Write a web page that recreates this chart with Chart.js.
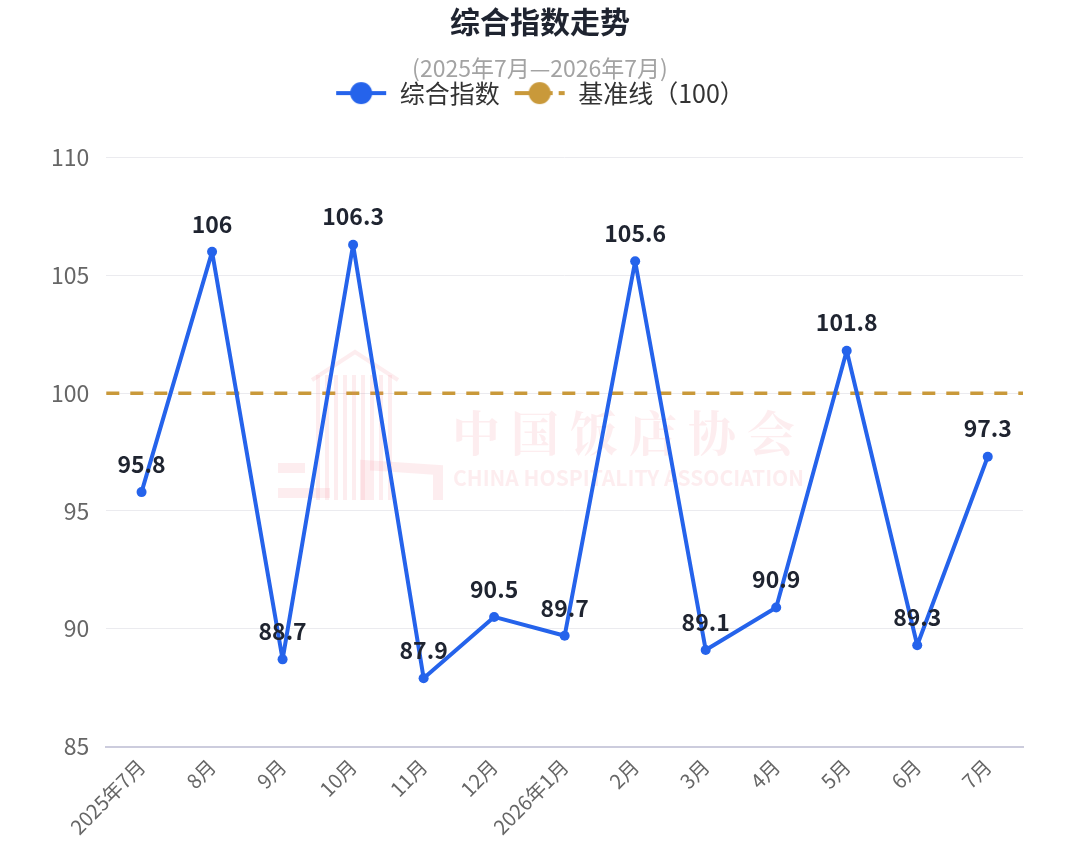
<!DOCTYPE html>
<html>
<head>
<meta charset="utf-8">
<script src="https://cdn.jsdelivr.net/npm/chart.js@4"></script>
<style>
  html, body { margin: 0; padding: 0; background: #fff; }
  #wrap { width: 1080px; height: 851px; }
</style>
</head>
<body>
<div id="wrap"><canvas id="lineChart"></canvas></div>
<script>
const months = ["2025年7月", "8月", "9月", "10月", "11月", "12月", "2026年1月", "2月", "3月", "4月", "5月", "6月", "7月"];
const indexValues = [95.8, 106, 88.7, 106.3, 87.9, 90.5, 89.7, 105.6, 89.1, 90.9, 101.8, 89.3, 97.3];
const baseValue = 100;
const baseValues = months.map(() => baseValue);

const FONT = "'Noto Sans CJK SC', 'Noto Sans', sans-serif";
const BLUE = "#2563eb";
const GOLD = "#c9993a";

// legend marker: short line with a dot in the middle
function legendIcon(color, dashed) {
  const c = document.createElement("canvas");
  c.width = 52; c.height = 24;
  const g = c.getContext("2d");
  g.strokeStyle = color;
  g.lineWidth = 4;
  if (dashed) g.setLineDash([38, 6]);
  g.beginPath();
  g.moveTo(1, 12); g.lineTo(51, 12);
  g.stroke();
  g.fillStyle = color;
  g.beginPath();
  g.arc(26, 12, 11, 0, Math.PI * 2);
  g.fill();
  return c;
}
const icons = [legendIcon(BLUE, false), legendIcon(GOLD, true)];

// baseline across the whole plot width
const baseLine = {
  id: "baseLine",
  beforeDatasetsDraw(chart) {
    const { ctx, chartArea, scales } = chart;
    const y = scales.y.getPixelForValue(baseValue);
    ctx.save();
    ctx.strokeStyle = GOLD;
    ctx.lineWidth = 3.5;
    ctx.setLineDash([13, 11]);
    ctx.beginPath();
    ctx.moveTo(chartArea.left, y);
    ctx.lineTo(chartArea.right, y);
    ctx.stroke();
    ctx.restore();
  }
};

const valueLabels = {
  id: "valueLabels",
  afterDatasetsDraw(chart) {
    const ctx = chart.ctx;
    const meta = chart.getDatasetMeta(0);
    ctx.save();
    ctx.font = "bold 23px " + FONT;
    ctx.fillStyle = "#1f2430";
    ctx.textAlign = "center";
    ctx.textBaseline = "middle";
    meta.data.forEach((pt, i) => {
      ctx.fillText(String(indexValues[i]), pt.x, pt.y - 28);
    });
    ctx.restore();
  }
};

const watermark = {
  id: "watermark",
  beforeDatasetsDraw(chart) {
    const ctx = chart.ctx;
    ctx.save();
    const pink = "rgba(238, 130, 145, 0.14)";
    ctx.fillStyle = pink;
    ctx.strokeStyle = pink;
    // rough building logo
    ctx.lineWidth = 4;
    for (let x = 318; x <= 392; x += 9) {
      ctx.beginPath();
      ctx.moveTo(x, 375); ctx.lineTo(x, 500);
      ctx.stroke();
    }
    ctx.beginPath();
    ctx.moveTo(312, 380); ctx.lineTo(355, 352); ctx.lineTo(398, 380);
    ctx.stroke();
    ctx.lineWidth = 10;
    ctx.beginPath();
    ctx.moveTo(278, 468); ctx.lineTo(305, 468);
    ctx.moveTo(278, 493); ctx.lineTo(330, 493);
    ctx.moveTo(365, 500); ctx.lineTo(365, 465); ctx.lineTo(438, 470); ctx.lineTo(438, 500);
    ctx.stroke();
    ctx.font = "bold 48px 'Noto Serif CJK SC', 'Noto Sans CJK SC', serif";
    ctx.textAlign = "left";
    ctx.textBaseline = "middle";
    ctx.letterSpacing = "11px";
    ctx.fillText("中国饭店协会", 452, 433);
    ctx.letterSpacing = "0px";
    ctx.font = "bold 21px " + FONT;
    ctx.fillText("CHINA HOSPITALITY ASSOCIATION", 453, 478);
    ctx.restore();
  }
};

// extra room under the legend
const legendGap = {
  id: "legendGap",
  beforeInit(chart) {
    const fit = chart.legend.fit;
    chart.legend.fit = function () {
      fit.bind(chart.legend)();
      this.height += 42;
    };
  }
};

// centre title, subtitle and legend on the full canvas width
const centreHeader = {
  id: "centreHeader",
  afterLayout(chart) {
    chart.boxes.forEach((b) => {
      if (!b.axis && b.position === "top") {
        b.left = 0;
        b.right = chart.width;
      }
    });
  }
};

Chart.defaults.font.family = FONT;

const ctxL = document.getElementById("lineChart").getContext("2d");
const myLineChart = new Chart(ctxL, {
  type: "line",
  data: {
    labels: months,
    datasets: [
      {
        label: "综合指数",
        data: indexValues,
        borderColor: BLUE,
        backgroundColor: BLUE,
        borderWidth: 4,
        borderJoinStyle: "round",
        pointRadius: 5,
        pointHoverRadius: 5,
        pointBackgroundColor: BLUE,
        pointBorderWidth: 0,
        tension: 0,
      },
      {
        label: "基准线（100）",
        data: baseValues,
        borderColor: GOLD,
        backgroundColor: GOLD,
        showLine: false,
        pointRadius: 0,
      },
    ],
  },
  options: {
    responsive: true,
    maintainAspectRatio: false,
    animation: false,
    layout: { padding: { left: 34, right: 57, top: 4, bottom: 4 } },
    plugins: {
      title: {
        display: true,
        text: "综合指数走势",
        color: "#1f2430",
        font: { size: 30, weight: "bold" },
        padding: { top: 0, bottom: 14 },
      },
      subtitle: {
        display: true,
        text: "(2025年7月—2026年7月)",
        color: "#a3a3a3",
        font: { size: 23 },
        padding: { top: 0, bottom: -15 },
      },
      legend: {
        display: true,
        labels: {
          usePointStyle: true,
          pointStyleWidth: 52,
          color: "#333",
          font: { size: 25 },
          padding: 14,
          boxHeight: 24,
          generateLabels(chart) {
            const items = Chart.defaults.plugins.legend.labels.generateLabels(chart);
            items.forEach((it, i) => { it.pointStyle = icons[i]; it.fontColor = "#333"; });
            return items;
          },
        },
      },
      tooltip: { enabled: false },
    },
    scales: {
      x: {
        offset: true,
        grid: { display: false, drawTicks: false },
        border: { color: "#ccccdd", width: 2 },
        ticks: {
          color: "#666",
          font: { size: 20 },
          maxRotation: 45,
          minRotation: 45,
          padding: 8,
        },
      },
      y: {
        min: 85,
        max: 110,
        grid: { color: "#ebebef", drawTicks: false },
        border: { display: false },
        ticks: {
          stepSize: 5,
          color: "#666",
          font: { size: 23 },
          padding: 17,
        },
      },
    },
  },
  plugins: [legendGap, centreHeader, baseLine, watermark, valueLabels],
});
</script>
</body>
</html>
